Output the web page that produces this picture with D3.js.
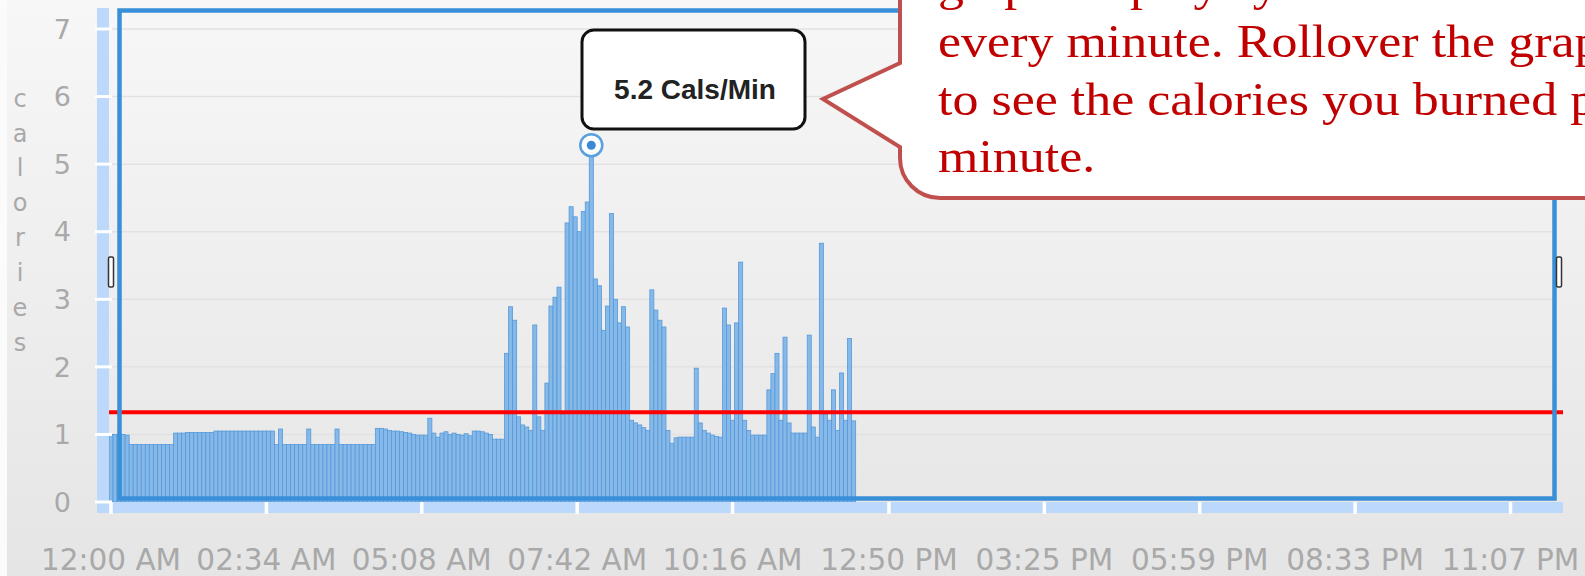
<!DOCTYPE html>
<html>
<head>
<meta charset="utf-8">
<script src="https://cdn.jsdelivr.net/npm/d3@7"></script>
<style>
  body { margin: 0; background: #fff; }
  svg { display: block; }
  .tick-label { font-family: 'DejaVu Sans', sans-serif; fill: #a9a9a9; }
  .note { font-family: 'Liberation Serif', serif; fill: #c00000; font-size: 46px; }
</style>
</head>
<body>
<svg id="chart" width="1585" height="576"></svg>
<script>
  // calories burned, one value per 4 minute slot starting at midnight
  const binMinutes = 4;
  const calories = [
    1.0, 1.0, 1.0, 1.0, 0.99, 0.85, 0.85, 0.85, 0.85, 0.85,
    0.85, 0.85, 0.85, 0.85, 0.85, 0.85, 1.02, 1.02, 1.02, 1.03,
    1.03, 1.03, 1.03, 1.03, 1.03, 1.03, 1.05, 1.05, 1.05, 1.05,
    1.05, 1.05, 1.05, 1.05, 1.05, 1.05, 1.05, 1.05, 1.05, 1.05,
    1.05, 0.85, 1.08, 0.85, 0.85, 0.85, 0.85, 0.85, 0.85, 1.08,
    0.85, 0.85, 0.85, 0.85, 0.85, 0.85, 1.08, 0.85, 0.85, 0.85,
    0.85, 0.85, 0.85, 0.85, 0.85, 0.85, 1.09, 1.09, 1.08, 1.06,
    1.05, 1.05, 1.04, 1.03, 1.02, 1.0, 0.99, 0.99, 0.99, 1.24,
    1.02, 0.96, 1.02, 1.04, 1.0, 1.02, 1.0, 0.99, 1.01, 0.98,
    1.05, 1.05, 1.04, 1.02, 1.0, 0.93, 0.93, 0.93, 2.2, 2.89,
    2.69, 1.26, 1.14, 1.11, 1.06, 2.62, 1.26, 1.06, 1.76, 2.9,
    3.03, 3.18, 1.3, 4.13, 4.37, 4.22, 4.0, 4.3, 4.44, 5.28,
    3.3, 3.2, 2.54, 2.9, 4.27, 3.0, 2.65, 2.89, 2.59, 1.21,
    1.17, 1.14, 1.1, 1.06, 3.14, 2.84, 2.69, 2.59, 1.06, 0.87,
    0.95, 0.96, 0.96, 0.96, 0.96, 1.98, 1.17, 1.06, 1.02, 0.99,
    0.97, 0.96, 2.87, 2.62, 1.21, 2.65, 3.55, 1.21, 1.06, 0.99,
    0.99, 0.99, 0.99, 1.66, 1.9, 2.2, 1.21, 2.44, 1.17, 1.02,
    1.02, 1.02, 1.02, 2.47, 1.11, 0.96, 3.83, 1.3, 1.21, 1.66,
    1.06, 1.91, 1.21, 2.42, 1.2
  ];
  const averageCalories = 1.33;
  const peakIndex = 119;
  const tooltipLabel = "5.2 Cals/Min";

  const tickMinutes = [0, 154, 308, 462, 616, 771, 925, 1079, 1233, 1387];
  const tickLabels = ["12:00 AM", "02:34 AM", "05:08 AM", "07:42 AM", "10:16 AM",
                      "12:50 PM", "03:25 PM", "05:59 PM", "08:33 PM", "11:07 PM"];
  const yTicks = [0, 1, 2, 3, 4, 5, 6, 7];
  const axisTitle = "calories";
  const noteLines = [
    "graph displays your total calories burned",
    "every minute. Rollover the graph",
    "to see the calories you burned per",
    "minute."
  ];

  const svg = d3.select("#chart");

  const x = d3.scaleLinear().domain([0, 1440]).range([111, 1564]);
  const y = d3.scaleLinear().domain([0, 7]).range([502, 29]);

  // background
  const defs = svg.append("defs");
  const grad = defs.append("linearGradient")
      .attr("id", "bg").attr("x1", 0).attr("y1", 0).attr("x2", 0).attr("y2", 1);
  grad.append("stop").attr("offset", "0%").attr("stop-color", "#f7f7f7");
  grad.append("stop").attr("offset", "100%").attr("stop-color", "#e5e5e5");

  svg.append("rect").attr("width", 1585).attr("height", 576).attr("fill", "#fbfbfb");
  svg.append("rect").attr("x", 7).attr("width", 1578).attr("height", 576).attr("fill", "url(#bg)");

  // grid lines
  svg.append("g").selectAll("line")
      .data(yTicks.filter(d => d > 0))
    .join("line")
      .attr("x1", 109).attr("x2", 1555)
      .attr("y1", d => y(d)).attr("y2", d => y(d))
      .attr("stroke", "#e2e2e2").attr("stroke-width", 1.5);

  // bars
  const bw = x(binMinutes) - x(0);
  svg.append("g").selectAll("rect")
      .data(calories)
    .join("rect")
      .attr("x", (d, i) => x(i * binMinutes) - bw / 2)
      .attr("width", bw)
      .attr("y", d => y(d))
      .attr("height", d => y(0) - y(d))
      .attr("fill", "#86b9e8")
      .attr("stroke", "#5599db")
      .attr("stroke-width", 0.8);

  // average line
  svg.append("line")
      .attr("x1", 108).attr("x2", 1563)
      .attr("y1", y(averageCalories)).attr("y2", y(averageCalories))
      .attr("stroke", "#ff0000").attr("stroke-width", 4);

  // axis strips
  svg.append("rect").attr("x", 97).attr("y", 8).attr("width", 12).attr("height", 505).attr("fill", "#bcd8fb");
  svg.append("rect").attr("x", 97).attr("y", 502).attr("width", 1466).attr("height", 11).attr("fill", "#bcd8fb");

  svg.append("g").selectAll("line")
      .data(yTicks)
    .join("line")
      .attr("x1", 95).attr("x2", 112)
      .attr("y1", d => y(d)).attr("y2", d => y(d))
      .attr("stroke", "#fff").attr("stroke-width", 3);

  svg.append("g").selectAll("line")
      .data(tickMinutes)
    .join("line")
      .attr("x1", d => x(d)).attr("x2", d => x(d))
      .attr("y1", 502).attr("y2", 514)
      .attr("stroke", "#fff").attr("stroke-width", 3.5);

  // selection frame
  svg.append("rect")
      .attr("x", 119.5).attr("y", 10.5)
      .attr("width", 1435).attr("height", 488)
      .attr("fill", "none").attr("stroke", "#3a8fd9").attr("stroke-width", 4.5);

  // resize grips
  svg.append("g").selectAll("rect")
      .data([111, 1559])
    .join("rect")
      .attr("x", d => d - 2.5).attr("y", 257)
      .attr("width", 5).attr("height", 30).attr("rx", 1.5)
      .attr("fill", "#fff").attr("stroke", "#333").attr("stroke-width", 1.5);

  // y tick labels
  svg.append("g").selectAll("text")
      .data(yTicks)
    .join("text")
      .attr("class", "tick-label")
      .attr("x", 71).attr("y", d => y(d))
      .attr("dy", "0.36em")
      .attr("text-anchor", "end")
      .attr("font-size", 27)
      .text(d => d);

  // x tick labels
  svg.append("g").selectAll("text")
      .data(tickMinutes)
    .join("text")
      .attr("class", "tick-label")
      .attr("x", d => x(d)).attr("y", 570)
      .attr("text-anchor", "middle")
      .attr("font-size", 29.5)
      .text((d, i) => tickLabels[i]);

  // vertical axis title, one letter per row
  svg.append("g").selectAll("text")
      .data(axisTitle.split(""))
    .join("text")
      .attr("class", "tick-label")
      .attr("x", 20).attr("y", (d, i) => 98 + i * 34.9)
      .attr("dy", "0.36em")
      .attr("text-anchor", "middle")
      .attr("font-size", 24)
      .text(d => d);

  // rollover marker and tooltip
  const px = x(peakIndex * binMinutes), py = y(calories[peakIndex]);
  svg.append("circle").attr("cx", px).attr("cy", py).attr("r", 11)
      .attr("fill", "#fff").attr("stroke", "#5aa0e0").attr("stroke-width", 2.5);
  svg.append("circle").attr("cx", px).attr("cy", py).attr("r", 4.5).attr("fill", "#3a8ad6");

  svg.append("rect")
      .attr("x", 582).attr("y", 30).attr("width", 223).attr("height", 99).attr("rx", 12)
      .attr("fill", "#fff").attr("stroke", "#111").attr("stroke-width", 3);
  svg.append("text")
      .attr("x", 695).attr("y", 99)
      .attr("text-anchor", "middle")
      .attr("font-family", "'Liberation Sans', Arial, sans-serif")
      .attr("font-weight", "bold")
      .attr("font-size", 28)
      .attr("fill", "#222")
      .text(tooltipLabel);

  // callout bubble
  svg.append("path")
      .attr("d", "M900,-10 L900,63 L823,99 L900,147 L900,158 A40,40 0 0 0 940,198 L1600,198 L1600,-10 Z")
      .attr("fill", "#fff").attr("stroke", "#c0504d").attr("stroke-width", 4);

  const sx = 1.13;
  svg.append("g")
      .attr("transform", "scale(" + sx + ",1)")
    .selectAll("text")
      .data(noteLines)
    .join("text")
      .attr("class", "note")
      .attr("x", 938 / sx).attr("y", (d, i) => 0 + i * 57.5)
      .text(d => d);
</script>
</body>
</html>
